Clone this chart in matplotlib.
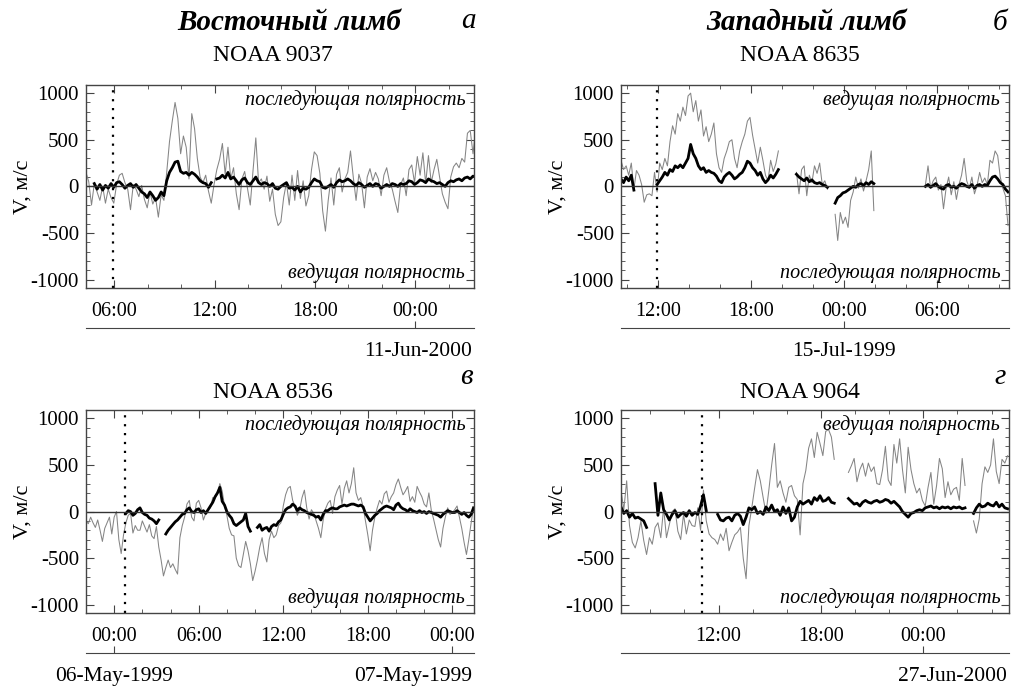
"""
Line-of-sight velocity at the solar limb, four NOAA regions.
"""

import matplotlib
matplotlib.use('Agg')
import matplotlib.pyplot as plt
from matplotlib.ticker import MultipleLocator, FuncFormatter
import numpy as np

plt.rcParams['font.family'] = ['Liberation Serif', 'DejaVu Serif']
plt.rcParams['axes.unicode_minus'] = False

GRAY = '#858585'
FRAME = '#444444'

# ---------------------------------------------------------------- data
# every series is sampled with a fixed step: t = t0 + dt * index (hours)
DT = 1 / 6

# panel a - NOAA 9037, 10/11 Jun 2000
A_T0 = 4.3
A_XLIM = (4.3, 27.53)
A_MARK = 5.9
A_THIN = [150, 50, -200, 30, -60, -150, 0, -180, -30, -120, -180, 20, 120, 140, 40, -30,
          -250, 20, -30, -110, 10, -140, -230, -60, -190, -120, -330, -90, -150, 150, 480,
          700, 900, 730, 350, 540, 420, 80, 780, 620, 300, 100, 40, 120, -50, -180, 20,
          180, 290, 460, 130, 420, 80, 200, -80, -250, 80, 160, -20, -200, 170, 520, 40,
          80, -30, 110, -160, -30, -300, -420, -380, -120, 40, -200, 120, -150, 170, -130,
          60, -210, -100, 180, 370, 330, 140, -260, -480, -150, 90, -200, 130, 200, -60,
          80, 150, 380, 100, -150, 130, 30, -230, 100, 190, 60, 150, 80, -100, 120, 200,
          50, -30, -160, -280, 20, 90, -100, 180, 230, 40, 320, 120, 360, 30, 330, 40, 180,
          290, 100, -80, -170, -240, 100, 210, 250, 200, 300, 260, 570, 600, 350, 620]
A_THICK = [None, None, None, 30, -30, 20, -40, 10, -20, 30, -10, 40, 50, 20, -20, 10, 30,
           -10, 20, -20, -60, -80, -120, -60, -100, -150, -120, -60, -100, 60, 150, 200,
           260, 270, 160, 140, 150, 120, 150, 130, 100, 60, 40, 30, -10, 40, None, 80, 90,
           120, 90, 150, 80, 100, 60, 20, 70, 90, 40, 20, 60, 100, 40, 20, 40, 30, 0, 30,
           -20, -30, 0, 20, 40, -20, -10, -40, 0, -60, -20, -30, -10, 40, 80, 60, 50, -10,
           -20, 0, 20, -10, 40, 70, 50, 60, 80, 60, 30, 10, 40, 20, -10, 10, 30, 0, 30, 20,
           -20, 0, 20, 0, 30, 20, 0, 30, 20, 30, 60, 50, 20, 40, 70, 60, 40, 80, 60, 50, 30,
           40, 20, 0, 40, 60, 50, 70, 80, 60, 90, 100, 80, 110, 100]

# panel b - NOAA 8635, 14/15 Jul 1999
B_T0 = 9.6
B_XLIM = (9.6, 34.67)
B_MARK = 11.95
B_THIN = [280, 180, 220, 120, 250, -30, 170, 120, 20, -170, -90, -80, -100, 150, -60, 250,
          180, 300, 220, 480, 650, 560, 780, 700, 850, 760, 970, 1000, 800, 920, 700, 820,
          540, 640, 480, 560, 680, 350, 200, 150, 300, 380, 480, 500, 300, 200, 380, 480,
          560, 700, 740, 550, 400, 250, 420, 280, 120, 60, 280, 160, 240, 380,
          None, None, None, None, None, None,
          150, -80, 180, 220, -100, 120, 40, 220, 140, 250, 20, 60, -30, None, None,
          -300, -580, -280, -400, -330, -440, -150, -60, 100, -20, 80, -50, 60, 180, 380,
          -260] + [None] * 19 + [
          20, 220, -20, 60, 100, -40, 20, -240, -20, 100, -90, 50, -140, 20, 120, 300, 60,
          -20, 100, -80, 10, 150, 40, 90, 20, 280, 250, 380, 330, 100, -20, -100, -420]
B_THICK = [80, 40, 100, 60, 120, -40, None, None, None, None, None, None, None, None,
           20, 60, 100, 150, 120, 180, 160, 220, 200, 230, 200, 250, 300, 450, 350, 300,
           220, 180, 200, 150, 170, 150, 140, 110, 60, 40, 100, 130, 150, 120, 80, 100, 130,
           150, 200, 270, 250, 200, 170, 120, 150, 80, 40, 70, 120, 90, 130, 180,
           None, None, None, None, None, None,
           130, 100, 80, 60, 90, 50, 70, 40, 30, 40, 20, 10, -10, None, None,
           -180, -120, -100, -70, -60, -40, -20, 0, -10, 20, 30, 10, 40, 20, 50,
           30] + [None] * 19 + [
           0, 20, -10, 10, 30, 0, -20, -30, 10, 20, -10, 0, -20, 10, 30, 20, 0, -10, 20,
           -20, 10, 20, 0, 20, 10, 60, 100, 110, 80, 40, 20, -30, -60]

# panel c - NOAA 8536, 5/6/7 May 1999
C_T0 = -2.0
C_XLIM = (-2.0, 25.54)
C_MARK = 0.78
C_THIN = [-100, -130, -60, -120, -170, -90, -200, -320, -180, -120, -60, -240, -60, 0,
          -300, -450, -250, -120, -40, -20, -230, -150, -200, -200, -100, -160, -220, -140,
          -260, -290, -160, -380, -520, -690, -600, -520, -600, -560, -620, -670, -280,
          -150, -60, 80, 120, -60, -100, 90, 120, 40, -90, -20, 20, 40, 150, 150, 190, 300,
          220, 60, -40, -180, -250, -260, -500, -580, -600, -460, -320, -420, -560, -740,
          -640, -520, -380, -280, -450, -540, -300, -210, -280, -250, -150, -120, 60, 180,
          250, 270, 120, 60, -40, 20, 150, 230, 40, -80, 20, -20, -100, -180, -280, -90,
          30, 90, 120, -20, 160, 230, 280, 80, 250, 330, 200, 300, 470, 200, 120, 150, 50,
          -100, -250, -420, -200, -60, 40, 120, 80, 190, 220, 100, 160, 200, 290, 350, 260,
          180, 220, 270, 110, 160, 100, 270, 210, 160, 80, 50, 200, 20, -80, -190, -300,
          -380, -180, -60, 40, -30, -10, 20, 60, -60, -180, -330, -460, -300, -120, 40]
C_THICK = [None] * 17 + [
           -20, 10, 0, -40, -20, 20, 40, -10, -30, -40, -70, -80, -100, -130, -90, None,
           None, -240, -200, -170, -140, -110, -90, -60, -30, -20, 20, 40, 0, -10, 20, 30,
           -10, 10, -20, 20, 60, 100, 160, 200, 260, 110, 70, 0, -40, -70, -130, -150, -130,
           -110, -90, -20, -160, -210, None, None, -170, -140, -200, -180, -170, -210, -160,
           -140, -150, -110, -90, -30, 20, 40, 50, 80, 60, 10, 40, 20, 10, -10, -20, -30,
           -40, -60, -50, -90, -30, 10, 10, 30, 40, 30, 30, 50, 60, 70, 60, 70, 80, 80, 70,
           60, 70, 50, -20, -60, -100, -70, -40, -20, 10, 30, 50, 60, 50, 40, 20, 70, 90, 50,
           30, 20, 0, 30, 10, 0, -10, 10, -10, 0, -20, 0, -10, -20, -30, -40, -60, -30, -10,
           10, 0, -10, -10, 10, -10, -30, -10, -40, -60, -30, 40]

# panel d - NOAA 9064, 26/27 Jun 2000
D_T0 = 6.28
D_XLIM = (6.28, 29.03)
D_MARK = 11.0
D_THIN = [230, 20, 330, -150, -330, -390, -280, -100, -310, -460, -280, -350, -170, -120,
          -280, 40, -280, -140, 0, 30, -210, -300, -30, -240, -90, -150, -160, 40, -200,
          230, -100, -240, -280, -300, -350, -240, -310, -180, -420, -330, -250, -220, -170,
          -500, -720, -150, 40, 250, 450, 330, 150, -20, 230, 500, 730, 260, 330, 200, 100,
          260, 280, 170, 130, -250, 300, 440, 680, 780, 580, 850, 730, 600, 860, 880, 800,
          560, None, None, None, None, 420, 490, 570, 320, 450, 520, 380, 520, 430, 480,
          300, 290, 450, 700, 340, 280, 720, 520, 780, 450, 200, 690, 450, 300, 200, 250,
          120, 60, 260, 420, 80, 280, 570, 460, 150, 320, 180, 240, 260, 120, 570, 280,
          None, None, -100, -230, -80, 300, 480, 420, 500, 780, 430, 300, 560, 520, 600]
D_THICK = [50, -20, 10, -60, -20, -70, -60, -80, -100, -170, None, None, 300, -40, 200, 20,
           -30, -90, -30, 10, -60, -30, -10, -50, 10, -40, -10, -30, 60, 180, 10, None, None,
           None, -30, -90, -100, -70, -60, -100, -40, -20, -50, -140, -60, 40, 20, 50, -20,
           0, -30, 50, 10, 70, 0, 20, -40, 50, -20, 40, -100, -60, 50, 110, 80, 100, 120, 80,
           150, 120, 170, 110, 120, 150, 100, 90, None, None, None, None, 140, 110, 80, 90,
           60, 100, 120, 100, 90, 110, 120, 100, 110, 130, 120, 90, 110, 80, 50, 0, -30, -60,
           -20, -10, 10, 20, 10, 40, 50, 60, 40, 50, 30, 50, 40, 50, 30, 50, 40, 50, 30, 40,
           None, None, -20, 40, 80, 50, 60, 90, 70, 60, 100, 50, 80, 40, 30]

PANELS = [
    dict(pos=(0.0846, 0.582), t0=A_T0, xlim=A_XLIM, mark=A_MARK, thin=A_THIN, thick=A_THICK,
         top='последующая полярность', bottom='ведущая полярность',
         date_ticks=[24], dates=[('11-Jun-2000', 'right')]),
    dict(pos=(0.6112, 0.582), t0=B_T0, xlim=B_XLIM, mark=B_MARK, thin=B_THIN, thick=B_THICK,
         top='ведущая полярность', bottom='последующая полярность',
         date_ticks=[24], dates=[('15-Jul-1999', 24)]),
    dict(pos=(0.0846, 0.110), t0=C_T0, xlim=C_XLIM, mark=C_MARK, thin=C_THIN, thick=C_THICK,
         top='последующая полярность', bottom='ведущая полярность',
         date_ticks=[0, 24], dates=[('06-May-1999', 0), ('07-May-1999', 'right')]),
    dict(pos=(0.6112, 0.110), t0=D_T0, xlim=D_XLIM, mark=D_MARK, thin=D_THIN, thick=D_THICK,
         top='ведущая полярность', bottom='последующая полярность',
         date_ticks=[24], dates=[('27-Jun-2000', 'right')]),
]

W, H = 0.382, 0.295


def hhmm(x, pos):
    return f'{int(round(x)) % 24:02d}:00'


fig = plt.figure(figsize=(10.16, 6.89), dpi=100)

for p in PANELS:
    ax = fig.add_axes([p['pos'][0], p['pos'][1], W, H])
    thin = np.array(p['thin'], dtype=float)
    thick = np.array(p['thick'], dtype=float)
    ax.plot(p['t0'] + DT * np.arange(len(thin)), thin, color=GRAY, lw=0.75)
    ax.plot(p['t0'] + DT * np.arange(len(thick)), thick, color='black', lw=2.0)
    ax.axhline(0, color='#333333', lw=1.0)
    ax.axvline(p['mark'], color='black', lw=1.6, ls=(0, (1, 3)))

    ax.set_xlim(*p['xlim'])
    ax.set_ylim(-1090, 1090)
    ax.xaxis.set_major_locator(MultipleLocator(6))
    ax.xaxis.set_minor_locator(MultipleLocator(2))
    ax.xaxis.set_major_formatter(FuncFormatter(hhmm))
    ax.set_yticks([-1000, -500, 0, 500, 1000])
    ax.yaxis.set_minor_locator(MultipleLocator(100))
    ax.tick_params(which='both', direction='in', top=True, right=True, color=FRAME)
    ax.tick_params(which='major', length=6)
    ax.tick_params(which='minor', length=3)
    ax.tick_params(axis='y', labelsize=15, pad=5)
    ax.tick_params(axis='x', labelsize=14.5, pad=10)
    for s in ax.spines.values():
        s.set_color(FRAME)
        s.set_linewidth(1.0)

    ax.text(0.977, 0.925, p['top'], transform=ax.transAxes, ha='right', va='center',
            style='italic', fontsize=14.5)
    ax.text(0.977, 0.075, p['bottom'], transform=ax.transAxes, ha='right', va='center',
            style='italic', fontsize=14.5)

    # date axis below the time axis
    sec = ax.secondary_xaxis(-0.197)
    sec.set_xticks(p['date_ticks'])
    sec.set_xticklabels([])
    sec.tick_params(direction='in', length=5, color=FRAME)
    sec.spines['bottom'].set_color(FRAME)
    for label, where in p['dates']:
        if where == 'right':
            ax.text(0.995, -0.31, label, transform=ax.transAxes, ha='right', va='center',
                    fontsize=15.5)
        else:
            ax.annotate(label, xy=(where, -0.31), xycoords=('data', 'axes fraction'),
                        ha='center', va='center', fontsize=15.5, annotation_clip=False)

    fig.text(p['pos'][0] - 0.062, p['pos'][1] + H / 2, 'V, м/с', rotation=90,
             ha='center', va='center', fontsize=16)

# headings
fig.text(0.285, 0.968, 'Восточный лимб', ha='center', va='center', fontsize=21,
         style='italic', weight='bold')
fig.text(0.7935, 0.968, 'Западный лимб', ha='center', va='center', fontsize=21,
         style='italic', weight='bold')
fig.text(0.461, 0.970, 'а', ha='center', va='center', fontsize=21, style='italic')
fig.text(0.984, 0.966, 'б', ha='center', va='center', fontsize=21, style='italic')
fig.text(0.459, 0.453, 'в', ha='center', va='center', fontsize=21, style='italic')
fig.text(0.984, 0.453, 'г', ha='center', va='center', fontsize=21, style='italic')

fig.text(0.269, 0.920, 'NOAA 9037', ha='center', va='center', fontsize=17)
fig.text(0.787, 0.920, 'NOAA 8635', ha='center', va='center', fontsize=17)
fig.text(0.269, 0.430, 'NOAA 8536', ha='center', va='center', fontsize=17)
fig.text(0.787, 0.430, 'NOAA 9064', ha='center', va='center', fontsize=17)

fig.savefig('out.png', dpi=100, facecolor='white')
plt.close(fig)
